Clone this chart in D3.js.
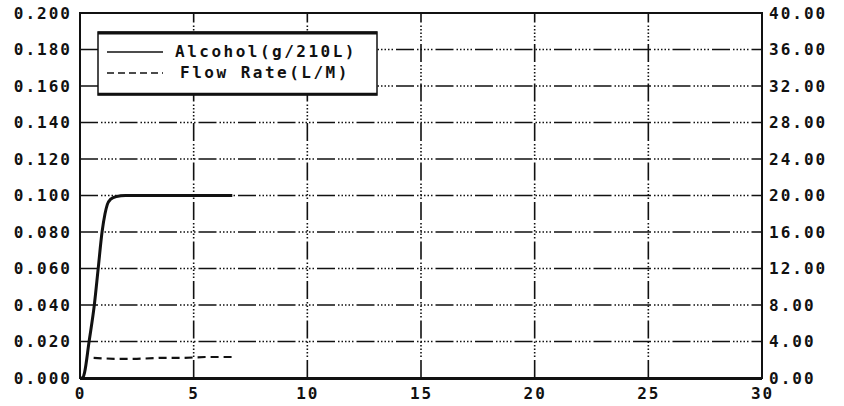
<!DOCTYPE html>
<html lang="en">
	<head>
		<meta charset="utf-8">
		<title>Alcohol / Flow Rate</title>
		<script type="text/javascript" src="https://cdn.jsdelivr.net/npm/d3@7"></script>
		<style type="text/css">
			body { margin: 0; background: #fff; }
			svg text { font-family: "DejaVu Sans Mono", "Liberation Mono", monospace; font-weight: bold; fill: #111; }
		</style>
	</head>
	<body>
		<script type="text/javascript">

			//Width and height
			var w = 844;
			var h = 406;
			var margin = { left: 80, right: 82, top: 13, bottom: 28 };

			//Data
			var alcoholTime  = [0, 0.12, 0.2, 0.4, 0.63, 0.8, 0.97, 1.1, 1.2, 1.35, 1.6, 2.0, 3.0, 4.0, 5.0, 6.0, 6.7];
			var alcoholValue = [0, 0, 0.003, 0.020, 0.040, 0.060, 0.080, 0.090, 0.095, 0.098, 0.0995, 0.100, 0.100, 0.100, 0.100, 0.100, 0.100];
			var flowTime  = [0.6, 1.5, 2.5, 3.5, 4.5, 5.5, 6.7];
			var flowValue = [2.2, 2.1, 2.1, 2.2, 2.2, 2.3, 2.3];

			//Tick labels
			var xTicks = [0, 5, 10, 15, 20, 25, 30];
			var leftTicks = [0, 0.02, 0.04, 0.06, 0.08, 0.10, 0.12, 0.14, 0.16, 0.18, 0.20];
			var rightTicks = [0, 4, 8, 12, 16, 20, 24, 28, 32, 36, 40];
			var legendLabels = ["Alcohol(g/210L)", "Flow Rate(L/M)"];

			var x0 = margin.left, x1 = w - margin.right;
			var y0 = h - margin.bottom, y1 = margin.top;

			//Scales
			var xScale = d3.scaleLinear().domain([0, 30]).range([x0, x1]);
			var yLeft = d3.scaleLinear().domain([0, 0.2]).range([y0, y1]);
			var yRight = d3.scaleLinear().domain([0, 40]).range([y0, y1]);

			var svg = d3.select("body")
						.append("svg")
						.attr("width", w)
						.attr("height", h);

			var gridDash = "18,3,1.5,2,1.5,2,1.5,2,1.5,2,1.5,3";

			//Horizontal grid
			svg.append("g")
				.selectAll("line")
				.data(leftTicks.slice(1, -1))
				.enter()
				.append("line")
				.attr("x1", x0)
				.attr("x2", x1)
				.attr("y1", function(d) { return yLeft(d); })
				.attr("y2", function(d) { return yLeft(d); })
				.attr("stroke", "#111")
				.attr("stroke-width", 1.6)
				.attr("stroke-dasharray", gridDash);

			//Vertical grid
			svg.append("g")
				.selectAll("line")
				.data(xTicks.slice(1, -1))
				.enter()
				.append("line")
				.attr("x1", function(d) { return xScale(d); })
				.attr("x2", function(d) { return xScale(d); })
				.attr("y1", y0)
				.attr("y2", y1)
				.attr("stroke", "#111")
				.attr("stroke-width", 1.6)
				.attr("stroke-dasharray", gridDash);

			//Left axis labels
			var leftAxis = d3.axisLeft(yLeft)
							.tickValues(leftTicks)
							.tickFormat(d3.format(".3f"))
							.tickSize(0)
							.tickPadding(8);
			var gl = svg.append("g")
				.attr("transform", "translate(" + x0 + ",0)")
				.call(leftAxis);
			gl.select(".domain").remove();
			gl.selectAll("text")
				.attr("font-size", 16)
				.attr("letter-spacing", 2)
				.attr("font-family", null);

			//Right axis labels
			var rightAxis = d3.axisRight(yRight)
							.tickValues(rightTicks)
							.tickFormat(d3.format(".2f"))
							.tickSize(0)
							.tickPadding(7);
			var gr = svg.append("g")
				.attr("transform", "translate(" + x1 + ",0)")
				.call(rightAxis);
			gr.select(".domain").remove();
			gr.selectAll("text")
				.attr("font-size", 16)
				.attr("letter-spacing", 2)
				.attr("font-family", null);

			//Bottom axis labels
			var bottomAxis = d3.axisBottom(xScale)
							.tickValues(xTicks)
							.tickFormat(d3.format("d"))
							.tickSize(0)
							.tickPadding(10);
			var gb = svg.append("g")
				.attr("transform", "translate(0," + y0 + ")")
				.call(bottomAxis);
			gb.select(".domain").remove();
			gb.selectAll("text")
				.attr("font-size", 16)
				.attr("letter-spacing", 2)
				.attr("font-family", null);

			//Plot frame
			svg.append("rect")
				.attr("x", x0)
				.attr("y", y1)
				.attr("width", x1 - x0)
				.attr("height", y0 - y1)
				.attr("fill", "none")
				.attr("stroke", "#111")
				.attr("stroke-width", 2);
			svg.append("line")
				.attr("x1", x0).attr("x2", x1)
				.attr("y1", y0 + 1).attr("y2", y0 + 1)
				.attr("stroke", "#111").attr("stroke-width", 2);

			//Alcohol line
			var alcohol = alcoholTime.map(function(t, i) { return [t, alcoholValue[i]]; });
			var alcLine = d3.line()
				.x(function(d) { return xScale(d[0]); })
				.y(function(d) { return yLeft(d[1]); })
				.curve(d3.curveMonotoneX);
			svg.append("path")
				.datum(alcohol)
				.attr("d", alcLine)
				.attr("fill", "none")
				.attr("stroke", "#111")
				.attr("stroke-width", 3);

			//Flow rate line
			var flow = flowTime.map(function(t, i) { return [t, flowValue[i]]; });
			var flowLine = d3.line()
				.x(function(d) { return xScale(d[0]); })
				.y(function(d) { return yRight(d[1]); });
			svg.append("path")
				.datum(flow)
				.attr("d", flowLine)
				.attr("fill", "none")
				.attr("stroke", "#111")
				.attr("stroke-width", 2.2)
				.attr("stroke-dasharray", "8,5");

			//Legend
			var legend = svg.append("g").attr("transform", "translate(98,32)");
			legend.append("rect")
				.attr("width", 279)
				.attr("height", 63)
				.attr("fill", "#fff")
				.attr("stroke", "#111")
				.attr("stroke-width", 1.5);
			legend.append("line")
				.attr("x1", 0).attr("x2", 279).attr("y1", 1).attr("y2", 1)
				.attr("stroke", "#111").attr("stroke-width", 3);
			legend.append("line")
				.attr("x1", 0).attr("x2", 279).attr("y1", 62).attr("y2", 62)
				.attr("stroke", "#111").attr("stroke-width", 2.5);

			var rows = legend.selectAll(".row")
				.data(legendLabels)
				.enter()
				.append("g")
				.attr("class", "row")
				.attr("transform", function(d, i) { return "translate(0," + (20 + i * 21) + ")"; });
			rows.append("line")
				.attr("x1", 9).attr("x2", 65)
				.attr("y1", 0).attr("y2", 0)
				.attr("stroke", "#111")
				.attr("stroke-width", 1.3)
				.attr("stroke-dasharray", function(d, i) { return i === 0 ? null : "7,4"; });
			rows.append("text")
				.attr("x", function(d, i) { return i === 0 ? 77 : 82; })
				.attr("y", 5)
				.attr("font-size", 16)
				.attr("letter-spacing", 2.5)
				.text(function(d) { return d; });

		</script>
	</body>
</html>
